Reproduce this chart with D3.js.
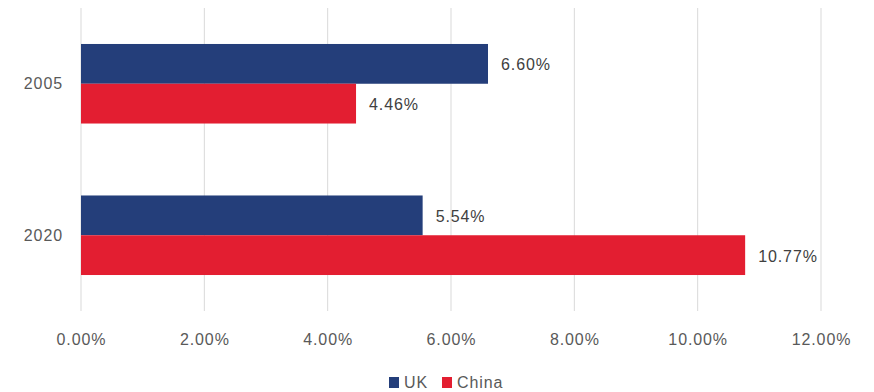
<!DOCTYPE html>
<html>
<head>
<meta charset="utf-8">
<script src="https://cdn.jsdelivr.net/npm/d3@7"></script>
<style>
  body { margin: 0; background: #fff; }
  svg { display: block; font-family: "Liberation Sans", Arial, sans-serif; }
  svg text { letter-spacing: 0.9px; }
</style>
</head>
<body>
<svg width="874" height="392"></svg>
<script>
// data
const years = ['2005', '2020'];
const seriesNames = ['UK', 'China'];
const ukValues = [6.60, 5.54];
const chinaValues = [4.46, 10.77];
const xTicks = [0, 2, 4, 6, 8, 10, 12];
const colors = { UK: '#243E7A', China: '#E31E31' };

const svg = d3.select('svg');
const plotLeft = 81, plotRight = 821, plotTop = 8, plotBottom = 311;

const x = d3.scaleLinear().domain([0, 12]).range([plotLeft, plotRight]);
const y = d3.scaleBand().domain(years).range([plotTop, plotBottom]).paddingInner(0.475).paddingOuter(0.2375);
const inner = d3.scaleBand().domain(seriesNames).range([0, y.bandwidth()]);

// gridlines
svg.append('g')
  .selectAll('line')
  .data(xTicks)
  .join('line')
  .attr('x1', d => x(d)).attr('x2', d => x(d))
  .attr('y1', plotTop).attr('y2', plotBottom)
  .attr('stroke', '#d9d9d9')
  .attr('stroke-width', 1);

// x tick labels
svg.append('g')
  .selectAll('text')
  .data(xTicks)
  .join('text')
  .attr('x', d => x(d) + 0.5)
  .attr('y', 345)
  .attr('text-anchor', 'middle')
  .attr('font-size', 16)
  .attr('fill', '#595959')
  .text(d => d.toFixed(2) + '%');

// year labels
svg.append('g')
  .selectAll('text')
  .data(years)
  .join('text')
  .attr('x', 63)
  .attr('y', d => y(d) + y.bandwidth() / 2)
  .attr('dy', '0.35em')
  .attr('text-anchor', 'end')
  .attr('font-size', 16)
  .attr('fill', '#595959')
  .text(d => d);

const rows = [];
years.forEach((yr, i) => {
  rows.push({ year: yr, series: 'UK', value: ukValues[i] });
  rows.push({ year: yr, series: 'China', value: chinaValues[i] });
});

svg.append('g')
  .selectAll('rect')
  .data(rows)
  .join('rect')
  .attr('x', x(0))
  .attr('y', d => y(d.year) + inner(d.series))
  .attr('width', d => x(d.value) - x(0))
  .attr('height', inner.bandwidth())
  .attr('fill', d => colors[d.series]);

svg.append('g')
  .selectAll('text')
  .data(rows)
  .join('text')
  .attr('x', d => x(d.value) + 13)
  .attr('y', d => y(d.year) + inner(d.series) + inner.bandwidth() / 2 + 1)
  .attr('dy', '0.35em')
  .attr('font-size', 16)
  .attr('fill', '#404040')
  .text(d => d.value.toFixed(2) + '%');

// legend
const legend = svg.append('g');
const legendX = [389, 442];
seriesNames.forEach((s, i) => {
  legend.append('rect')
    .attr('x', legendX[i]).attr('y', 377)
    .attr('width', 10).attr('height', 11)
    .attr('fill', colors[s]);
  legend.append('text')
    .attr('x', legendX[i] + 15)
    .attr('y', 382.5)
    .attr('dy', '0.35em')
    .attr('font-size', 16)
    .attr('fill', '#595959')
    .text(s);
});
</script>
</body>
</html>
